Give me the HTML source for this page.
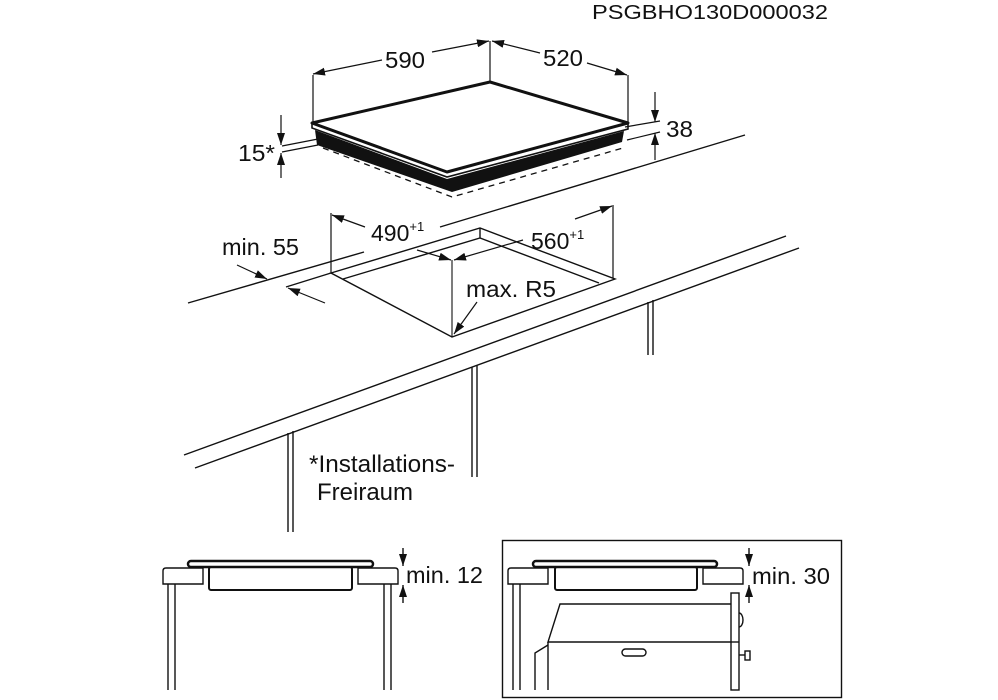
<!DOCTYPE html>
<html><head><meta charset="utf-8"><style>
html,body{margin:0;padding:0;background:#fff;}
svg{display:block;}
text{font-family:"Liberation Sans",Arial,sans-serif;fill:#111;}
</style></head><body>
<svg width="998" height="700" viewBox="0 0 998 700" xmlns="http://www.w3.org/2000/svg">
<defs>
<marker id="a" viewBox="0 0 12 8" refX="12" refY="4" markerWidth="12" markerHeight="8" markerUnits="userSpaceOnUse" orient="auto"><path d="M0,0 L12,4 L0,8 Z" fill="#111"/></marker>
</defs>
<text x="592" y="19" font-size="20" textLength="236" lengthAdjust="spacingAndGlyphs">PSGBHO130D000032</text>

<!-- hob -->
<g stroke="#111" fill="none" stroke-width="1.2">
<line x1="313" y1="75" x2="313" y2="123"/>
<line x1="490" y1="41" x2="490" y2="82"/>
<line x1="628" y1="75" x2="628" y2="123"/>
<line x1="382" y1="60" x2="313" y2="74" marker-end="url(#a)"/>
<line x1="432" y1="52" x2="489" y2="41" marker-end="url(#a)"/>
<line x1="540" y1="53" x2="492" y2="41" marker-end="url(#a)"/>
<line x1="587" y1="63" x2="627" y2="75" marker-end="url(#a)"/>
</g>
<text x="385" y="68" font-size="23" textLength="40" lengthAdjust="spacingAndGlyphs">590</text>
<text x="543" y="66" font-size="23" textLength="40" lengthAdjust="spacingAndGlyphs">520</text>
<polygon points="315,130 447,179 624,131 622,142 452,192 317,145" fill="#111"/>
<polygon points="312,123 312,128 447,177 628,129 628,123 447,172" fill="#fff" stroke="#111" stroke-width="1.6"/>
<polygon points="312,123 490,82 628,123 447,172" fill="#fff" stroke="#111" stroke-width="3" stroke-linejoin="round"/>
<polyline points="323,148 452,197 623,148" fill="none" stroke="#111" stroke-width="1.3" stroke-dasharray="6,5"/>
<g stroke="#111" fill="none" stroke-width="1.2">
<line x1="281" y1="115" x2="281" y2="145" marker-end="url(#a)"/>
<line x1="281" y1="178" x2="281" y2="153" marker-end="url(#a)"/>
<line x1="282" y1="146" x2="318" y2="139"/>
<line x1="282" y1="152" x2="318" y2="145"/>
<line x1="655" y1="92" x2="655" y2="122" marker-end="url(#a)"/>
<line x1="655" y1="160" x2="655" y2="133" marker-end="url(#a)"/>
<line x1="625" y1="127" x2="660" y2="121"/>
<line x1="627" y1="140" x2="660" y2="132"/>
</g>
<text x="238" y="161" font-size="23" textLength="37" lengthAdjust="spacingAndGlyphs">15*</text>
<text x="666" y="137" font-size="23" textLength="27" lengthAdjust="spacingAndGlyphs">38</text>

<!-- worktop -->
<g stroke="#111" fill="none" stroke-width="1.4">
<line x1="188" y1="303" x2="364" y2="252"/>
<line x1="440" y1="227" x2="745" y2="135"/>
<line x1="184" y1="455" x2="786" y2="236"/>
<line x1="195" y1="468" x2="799" y2="248"/>
<line x1="286" y1="287" x2="331" y2="273"/>
<line x1="288" y1="433" x2="288" y2="532"/><line x1="293" y1="431" x2="293" y2="532"/>
<line x1="472" y1="367" x2="472" y2="477"/><line x1="477" y1="365" x2="477" y2="477"/>
<line x1="648" y1="302" x2="648" y2="355"/><line x1="653" y1="300" x2="653" y2="355"/>
<polygon points="331,273 480,228 615,279 452,337"/>
<polyline points="343,279 480,238 599,283"/>
<line x1="480" y1="228" x2="480" y2="238"/>
<line x1="452" y1="260" x2="452" y2="337" stroke-width="1.1"/>
</g>
<g stroke="#111" fill="none" stroke-width="1.2">
<line x1="331" y1="213" x2="331" y2="273"/>
<line x1="613" y1="205" x2="613" y2="278"/>
<line x1="365" y1="227" x2="332" y2="215" marker-end="url(#a)"/>
<line x1="417" y1="250" x2="451" y2="260" marker-end="url(#a)"/>
<line x1="575" y1="219" x2="612" y2="206" marker-end="url(#a)"/>
<line x1="523" y1="240" x2="454" y2="260" marker-end="url(#a)"/>
<line x1="477" y1="302" x2="454" y2="334" marker-end="url(#a)"/>
<line x1="237" y1="265" x2="267" y2="279" marker-end="url(#a)"/>
<line x1="325" y1="303" x2="288" y2="288" marker-end="url(#a)"/>
</g>
<text x="371" y="241" font-size="23">490<tspan font-size="13" dy="-10">+1</tspan></text>
<text x="531" y="249" font-size="23">560<tspan font-size="13" dy="-10">+1</tspan></text>
<text x="466" y="297" font-size="23" textLength="90" lengthAdjust="spacingAndGlyphs">max. R5</text>
<text x="222" y="255" font-size="23" textLength="77" lengthAdjust="spacingAndGlyphs">min. 55</text>
<text x="309" y="472" font-size="24" textLength="146" lengthAdjust="spacingAndGlyphs">*Installations-</text>
<text x="317" y="500" font-size="24" textLength="96" lengthAdjust="spacingAndGlyphs">Freiraum</text>

<!-- bottom left -->
<g stroke="#111" fill="none" stroke-width="1.4">
<path d="M203,568 H166 Q163,568 163,571 V584 H203 Z"/>
<path d="M358,568 H395 Q398,568 398,571 V584 H358 Z"/>
<rect x="209" y="567" width="143" height="23" rx="2" stroke-width="2"/>
<line x1="168" y1="584" x2="168" y2="690"/><line x1="175" y1="584" x2="175" y2="690"/>
<line x1="384" y1="584" x2="384" y2="690"/><line x1="391" y1="584" x2="391" y2="690"/>
<line x1="403" y1="548" x2="403" y2="566" marker-end="url(#a)"/>
<line x1="403" y1="603" x2="403" y2="585" marker-end="url(#a)"/>
</g>
<rect x="188" y="561" width="185" height="6" rx="3" fill="#fff" stroke="#111" stroke-width="2.5"/>
<text x="406" y="583" font-size="23" textLength="77" lengthAdjust="spacingAndGlyphs">min. 12</text>

<!-- bottom right -->
<rect x="502.5" y="540.5" width="339" height="157" fill="none" stroke="#111" stroke-width="1.4"/>
<g stroke="#111" fill="none" stroke-width="1.4">
<path d="M548,568 H511 Q508,568 508,571 V584 H548 Z"/>
<path d="M703,568 H740 Q743,568 743,571 V584 H703 Z"/>
<rect x="555" y="567" width="142" height="23" rx="2" stroke-width="2"/>
<line x1="513" y1="584" x2="513" y2="690"/><line x1="520" y1="584" x2="520" y2="690"/>
<line x1="749" y1="548" x2="749" y2="566" marker-end="url(#a)"/>
<line x1="749" y1="603" x2="749" y2="585" marker-end="url(#a)"/>
<polyline points="731,604 560,604 548,642 731,642"/>
<line x1="548" y1="642" x2="548" y2="690"/>
<polyline points="548,645 535,653 535,690"/>
<rect x="731" y="593" width="8" height="97"/>
<line x1="731" y1="642" x2="739" y2="642"/>
<path d="M739,613 A4,7 0 0 1 739,627"/>
<rect x="622" y="649" width="24" height="7" rx="3.5"/>
<line x1="739" y1="655" x2="745" y2="655"/>
<rect x="745" y="651" width="5" height="9"/>
</g>
<rect x="533" y="561" width="184" height="6" rx="3" fill="#fff" stroke="#111" stroke-width="2.5"/>
<text x="752" y="584" font-size="23" textLength="78" lengthAdjust="spacingAndGlyphs">min. 30</text>
</svg>
</body></html>
